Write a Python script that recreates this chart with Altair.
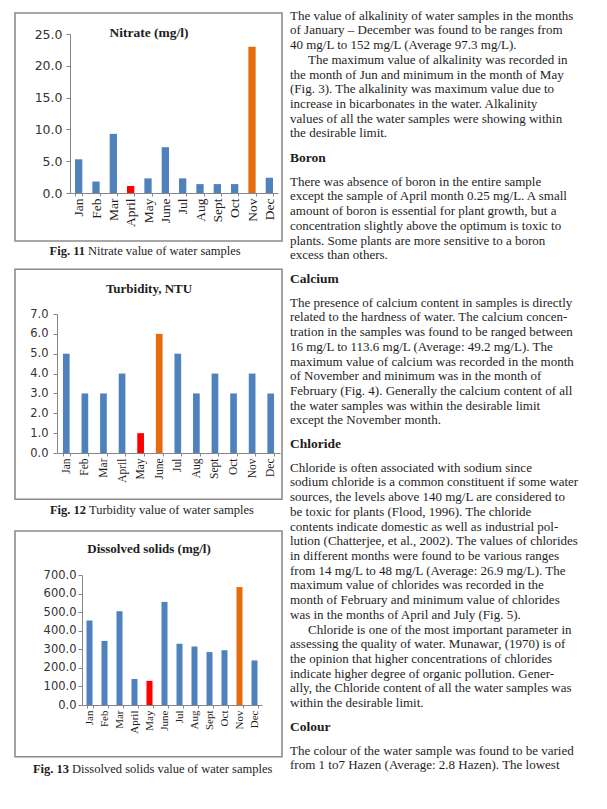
import altair as alt
import pandas as pd

months = ["Jan", "Feb", "Mar", "April", "May", "June", "Jul", "Aug", "Sept", "Oct", "Nov", "Dec"]
nitrate = [5.3, 1.8, 9.3, 1.1, 2.3, 7.2, 2.3, 1.4, 1.4, 1.4, 23.0, 2.4]
nitrate_cls = ["n", "n", "n", "min", "n", "n", "n", "n", "n", "n", "max", "n"]
turbidity = [5, 3, 3, 4, 1, 6, 5, 3, 4, 3, 4, 3]
turbidity_cls = ["n", "n", "n", "n", "min", "max", "n", "n", "n", "n", "n", "n"]
dissolved = [455, 345, 505, 140, 130, 555, 330, 315, 285, 295, 635, 240]
dissolved_cls = ["n", "n", "n", "n", "min", "n", "n", "n", "n", "n", "max", "n"]

nitrate_ticks = [0, 5, 10, 15, 20, 25]
turbidity_ticks = [0, 1, 2, 3, 4, 5, 6, 7]
dissolved_ticks = [0, 100, 200, 300, 400, 500, 600, 700]

IND = ">"  # marks a paragraph's first (indented) line
para_a = [
    "The value of alkalinity of water samples in the months",
    "of January \u2013 December was found to be ranges from",
    "40 mg/L to 152 mg/L (Average 97.3 mg/L).",
    IND + "The maximum value of alkalinity was recorded in",
    "the month of Jun and minimum in the month of May",
    "(Fig. 3). The alkalinity was maximum value due to",
    "increase in bicarbonates in the water. Alkalinity",
    "values of all the water samples were showing within",
    "the desirable limit.",
]
para_b = [
    "There was absence of boron in the entire sample",
    "except the sample of April month 0.25 mg/L. A small",
    "amount of boron is essential for plant growth, but a",
    "concentration slightly above the optimum is toxic to",
    "plants. Some plants are more sensitive to a boron",
    "excess than others.",
]
para_c = [
    "The presence of calcium content in samples is directly",
    "related to the hardness of water. The calcium concen-",
    "tration in the samples was found to be ranged between",
    "16 mg/L to 113.6 mg/L (Average: 49.2 mg/L). The",
    "maximum value of calcium was recorded in the month",
    "of November and minimum was in the month of",
    "February (Fig. 4). Generally the calcium content of all",
    "the water samples was within the desirable limit",
    "except the November month.",
]
para_d = [
    "Chloride is often associated with sodium since",
    "sodium chloride is a common constituent if some water",
    "sources, the levels above 140 mg/L are considered to",
    "be toxic for plants (Flood, 1996). The chloride",
    "contents indicate domestic as well as industrial pol-",
    "lution (Chatterjee, et al., 2002). The values of chlorides",
    "in different months were found to be various ranges",
    "from 14 mg/L to 48 mg/L (Average: 26.9 mg/L). The",
    "maximum value of chlorides was recorded in the",
    "month of February and minimum value of chlorides",
    "was in the months of April and July (Fig. 5).",
    IND + "Chloride is one of the most important parameter in",
    "assessing the quality of water. Munawar, (1970) is of",
    "the opinion that higher concentrations of chlorides",
    "indicate higher degree of organic pollution. Gener-",
    "ally, the Chloride content of all the water samples was",
    "within the desirable limit.",
]
para_e = [
    "The colour of the water sample was found to be varied",
    "from 1 to7 Hazen (Average: 2.8 Hazen). The lowest",
]
headings = ["Boron", "Calcium", "Chloride", "Colour"]

BLUE = "#4F81BD"
RED = "#FF0000"
ORANGE = "#E46C0A"
AX = "#868686"
BOX = "#8c8c8c"
SERIF = "Liberation Serif"
SANS = "DejaVu Sans"
INK = "#1e1e1e"
BOXW = 267

one = pd.DataFrame({"k": [0]})


def panel(values, cls, ticks, ymax, title, fig_no, fig_text, h, xr, pad,
          box_y, cell_y, title_y, cap_xy, ysize, xsize, ylpad, tsize):
    df = pd.DataFrame({"month": months, "value": values, "cls": cls})
    bars = alt.Chart(df).mark_bar().encode(
        x=alt.X("month:N", sort=months,
                scale=alt.Scale(range=list(xr), paddingInner=pad, paddingOuter=pad / 2),
                axis=alt.Axis(title=None, labelAngle=-90, labelAlign="right",
                              labelBaseline="middle", labelFont=SERIF,
                              labelFontSize=xsize, labelColor=INK,
                              labelPadding=2, tickBand="extent", tickSize=3,
                              tickColor=AX, domainColor=AX, labelOverlap=False)),
        y=alt.Y("value:Q", scale=alt.Scale(domain=[0, ymax], nice=False, zero=True),
                axis=alt.Axis(title=None, values=ticks, format=".1f", offset=-xr[0],
                              labelFont=SANS, labelFontSize=ysize,
                              labelColor="#333333", labelPadding=ylpad,
                              tickSize=4, tickColor=AX, domainColor=AX, grid=False)),
        color=alt.Color("cls:N",
                        scale=alt.Scale(domain=["n", "min", "max"], range=[BLUE, RED, ORANGE]),
                        legend=None),
    )
    cell_rect = alt.Chart(one).mark_rect(fill="white", fillOpacity=0, strokeOpacity=0).encode(
        x=alt.value(0), x2=alt.value(BOXW),
        y=alt.value(cell_y[0]), y2=alt.value(cell_y[1]))
    frame = alt.Chart(one).mark_rect(filled=False, stroke=BOX, strokeWidth=1.6).encode(
        x=alt.value(0), x2=alt.value(BOXW),
        y=alt.value(box_y[0]), y2=alt.value(box_y[1]))
    ttl = alt.Chart(one).mark_text(text=title, font=SERIF, fontSize=tsize,
                                   fontWeight="bold", color=INK,
                                   align="center", baseline="middle").encode(
        x=alt.value(134), y=alt.value(title_y))
    cap_b = alt.Chart(one).mark_text(text=fig_no, font=SERIF, fontSize=12.5,
                                     fontWeight="bold", color=INK,
                                     align="right", baseline="middle").encode(
        x=alt.value(cap_xy[0]), y=alt.value(cap_xy[1]))
    cap_n = alt.Chart(one).mark_text(text=fig_text, font=SERIF, fontSize=12.5,
                                     color=INK, align="left", baseline="middle").encode(
        x=alt.value(cap_xy[0] + 3), y=alt.value(cap_xy[1]))
    return alt.layer(cell_rect, frame, bars, ttl, cap_b, cap_n).properties(width=BOXW, height=h)


c1 = panel(nitrate, nitrate_cls, nitrate_ticks, 25, "Nitrate (mg/l)", "Fig. 11",
           "Nitrate value of water samples", 159, (55, 263), 0.58,
           box_y=(-21, 207), cell_y=(-25.3, 233.7), title_y=-1, cap_xy=(70, 216.7),
           ysize=12.5, xsize=13.5, ylpad=4, tsize=13.5)
c2 = panel(turbidity, turbidity_cls, turbidity_ticks, 7, "Turbidity, NTU", "Fig. 12",
           "Turbidity value of water samples", 139, (42, 265), 0.64,
           box_y=(-44.7, 185.3), cell_y=(-44.7, 215.3), title_y=-24.7, cap_xy=(71, 196.3),
           ysize=11.5, xsize=11.5, ylpad=5, tsize=13)
c3 = panel(dissolved, dissolved_cls, dissolved_ticks, 700, "Dissolved solids (mg/l)", "Fig. 13",
           "Dissolved solids value of water samples", 130, (67, 247), 0.6,
           box_y=(-44, 181.7), cell_y=(-44, 214), title_y=-26, cap_xy=(54, 194),
           ysize=11.5, xsize=11, ylpad=2, tsize=13)

LH = 14.72
TOP = 33.3  # page y of the first chart's plot top (text panel shares that origin)
INDENT = 18


def text_mark(lines, x, y, bold, size):
    return alt.Chart(one).mark_text(
        text=lines, font=SERIF, fontSize=size, fontWeight="bold" if bold else "normal",
        color=INK, align="left", baseline="alphabetic", lineHeight=LH).encode(
        x=alt.value(x), y=alt.value(y))


def block(lines, page_baseline, bold=False, size=13):
    y0 = page_baseline - TOP
    marks = []
    run, run_start = [], 0
    for i, ln in enumerate(lines):
        if ln.startswith(IND):
            if run:
                marks.append(text_mark(run, 0, y0 + run_start * LH, bold, size))
            run = [ln[len(IND):]]
            run_start = i
            marks.append(text_mark(run, INDENT, y0 + i * LH, bold, size))
            run, run_start = [], i + 1
        else:
            run.append(ln)
    if run:
        marks.append(text_mark(run, 0, y0 + run_start * LH, bold, size))
    return marks


layers = []
layers += block(para_a, 19)
layers += block([headings[0]], 161, bold=True, size=13.5)
layers += block(para_b, 185)
layers += block([headings[1]], 282, bold=True, size=13.5)
layers += block(para_c, 306)
layers += block([headings[2]], 447, bold=True, size=13.5)
layers += block(para_d, 471)
layers += block([headings[3]], 730, bold=True, size=13.5)
layers += block(para_e, 754)
text_panel = alt.layer(*layers).properties(width=280, height=700)

left = alt.vconcat(c1, c2, c3, spacing=0)
chart = alt.hconcat(left, text_panel, spacing=7).properties(
    padding={"left": 0, "top": 0, "right": 0, "bottom": 0},
    background="white",
).configure_view(stroke=None).configure_axis(grid=False)

chart.save("out.html", embed_options={"renderer": "svg", "actions": False})
